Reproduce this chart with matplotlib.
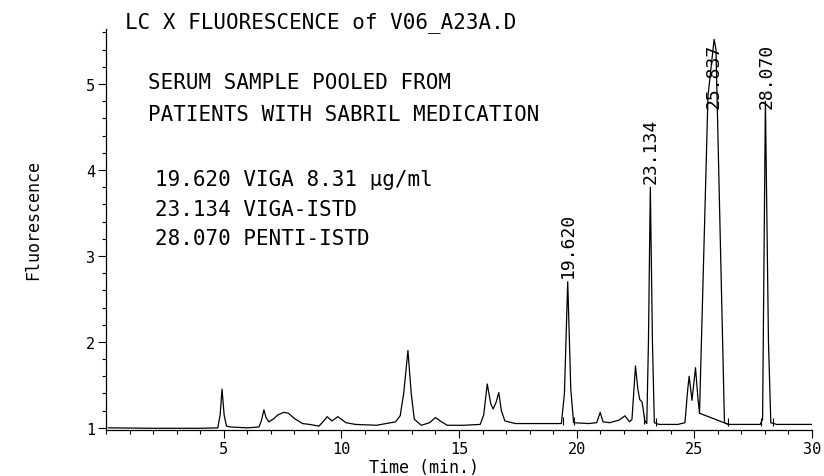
import numpy as np
import matplotlib
matplotlib.use('Agg')
import matplotlib.pyplot as plt
from matplotlib.ticker import MultipleLocator

# chromatogram trace (time in min, fluorescence)
trace_t = [0.1, 2.0, 4.0, 4.75, 4.85, 4.93, 5.02, 5.12, 5.3, 6.0, 6.5, 6.6, 6.71, 6.8,
           6.92, 7.1, 7.3, 7.55, 7.75, 8.0, 8.35, 8.65, 9.05, 9.25, 9.4, 9.6, 9.85,
           10.2, 10.6, 11.5, 11.9, 12.3, 12.5, 12.65, 12.83, 12.97, 13.1, 13.4, 13.75,
           14.0, 14.2, 14.5, 15.2, 15.9, 16.05, 16.2, 16.35, 16.45, 16.58, 16.69, 16.8,
           16.95, 17.4, 18.5, 19.35, 19.48, 19.62, 19.75, 19.87, 20.5, 20.85, 21.0,
           21.12, 21.4, 21.8, 22.05, 22.25, 22.35, 22.5, 22.6, 22.68, 22.78, 22.9,
           22.98, 23.05, 23.13, 23.22, 23.3, 23.5, 24.3, 24.6, 24.72, 24.78, 24.9,
           25.05, 25.15, 25.22, 25.58, 25.84, 25.92, 26.28, 26.45, 27.0, 27.8, 27.9,
           28.02, 28.15, 28.25, 28.5, 30.0]
trace_v = [1.00, 0.995, 0.995, 1.0, 1.15, 1.45, 1.15, 1.02, 1.01, 1.0, 1.01, 1.08, 1.21, 1.12,
           1.07, 1.10, 1.15, 1.18, 1.17, 1.11, 1.05, 1.04, 1.02, 1.08, 1.13, 1.08, 1.13,
           1.06, 1.04, 1.03, 1.05, 1.07, 1.14, 1.40, 1.90, 1.40, 1.10, 1.03, 1.06,
           1.12, 1.08, 1.03, 1.03, 1.04, 1.15, 1.51, 1.28, 1.22, 1.30, 1.41, 1.20,
           1.08, 1.05, 1.05, 1.05, 1.40, 2.70, 1.45, 1.06, 1.05, 1.06, 1.18,
           1.07, 1.06, 1.09, 1.14, 1.07, 1.10, 1.72, 1.45, 1.33, 1.30, 1.08,
           1.05, 2.00, 3.80, 2.00, 1.06, 1.04, 1.04, 1.06, 1.45, 1.60, 1.32,
           1.70, 1.35, 1.17, 4.86, 5.52, 5.40, 1.06, 1.04, 1.04, 1.04, 1.10,
           4.80, 2.00, 1.06, 1.04, 1.04]

# drop-line baseline under the 25.837 peak
skim_t = [25.22, 26.45]
skim_v = [1.17, 1.04]

# integration start/stop marks
mark_t = [19.42, 19.9, 22.88, 23.38, 26.45, 27.85, 28.33]
mark_v = [1.05, 1.05, 1.07, 1.04, 1.04, 1.04, 1.04]

# labelled peaks
peak_t = [19.62, 23.134, 25.837, 28.070]
peak_v = [2.70, 3.80, 5.52, 4.80]
peak_lbl = ['19.620', '23.134', '25.837', '28.070']

xticks = [5, 10, 15, 20, 25, 30]
yticks = [1, 2, 3, 4, 5]

plt.rcParams['font.family'] = ['DejaVu Sans Mono', 'DejaVu Sans']

W, H = 824, 477
fig = plt.figure(figsize=(W / 100, H / 100), dpi=100)
ax = fig.add_axes([106 / W, 1 - 431 / H, (812 - 106) / W, (431 - 30) / H])

ax.plot(trace_t, trace_v, color='black', lw=0.9)
ax.plot(skim_t, skim_v, color='black', lw=0.9)
ax.vlines(mark_t, [v - 0.02 for v in mark_v], [v + 0.08 for v in mark_v],
          color='black', lw=0.8)

for t, v, s in zip(peak_t, peak_v, peak_lbl):
    ax.text(t, min(v + 0.05, 4.72), s, rotation=90, ha='center', va='bottom',
            fontsize=13)

ax.set_xlim(0, 30)
ax.set_ylim(0.975, 5.64)
ax.set_xticks(xticks)
ax.set_yticks(yticks)
ax.xaxis.set_minor_locator(MultipleLocator(1))
ax.yaxis.set_minor_locator(MultipleLocator(0.2))
ax.tick_params(axis='both', which='major', direction='out', length=6, width=0.8,
               labelsize=11, pad=2)
ax.tick_params(axis='both', which='minor', direction='out', length=3, width=0.8)
for s in ['top', 'right']:
    ax.spines[s].set_visible(False)
for s in ['left', 'bottom']:
    ax.spines[s].set_linewidth(0.9)

def ftext(x, y, s, **kw):
    fig.text(x / W, 1 - y / H, s, va='center', **kw)

ftext(125, 23, 'LC X FLUORESCENCE of V06_A23A.D', fontsize=15)
ftext(148, 83, 'SERUM SAMPLE POOLED FROM', fontsize=15)
ftext(148, 115, 'PATIENTS WITH SABRIL MEDICATION', fontsize=15)
ftext(155, 180, '19.620 VIGA 8.31 \u03bcg/ml', fontsize=15)
ftext(155, 210, '23.134 VIGA-ISTD', fontsize=15)
ftext(155, 239, '28.070 PENTI-ISTD', fontsize=15)
ftext(424, 468, 'Time (min.)', fontsize=12, ha='center')
fig.text(33 / W, 1 - 220 / H, 'Fluorescence', rotation=90, ha='center',
         va='center', fontsize=12)

fig.savefig('out.png', dpi=100)
